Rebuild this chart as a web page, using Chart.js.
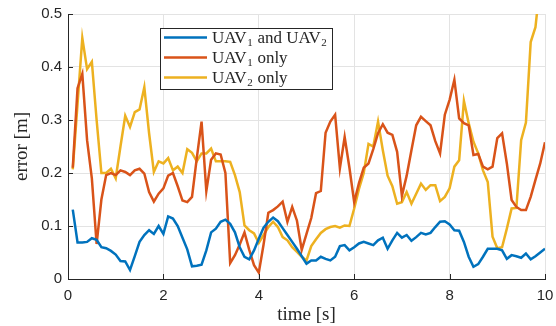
<!DOCTYPE html>
<html>
<head>
<meta charset="utf-8">
<script src="https://cdn.jsdelivr.net/npm/chart.js@4.4.0/dist/chart.umd.min.js"></script>
<style>
  html, body { margin: 0; padding: 0; background: #fff; }
  #wrap { width: 556px; height: 326px; }
</style>
</head>
<body>
<div id="wrap"><canvas id="errChart" width="556" height="326"></canvas></div>
<script>
// time stamps [s]
const time = [
  0.1, 0.2, 0.3, 0.4, 0.5, 0.6, 0.7, 0.8, 0.9, 1.0,
  1.1, 1.2, 1.3, 1.4, 1.5, 1.6, 1.7, 1.8, 1.9, 2.0,
  2.1, 2.2, 2.3, 2.4, 2.5, 2.6, 2.7, 2.8, 2.9, 3.0,
  3.1, 3.2, 3.3, 3.4, 3.5, 3.6, 3.7, 3.8, 3.9, 4.0,
  4.1, 4.2, 4.3, 4.4, 4.5, 4.6, 4.7, 4.8, 4.9, 5.0,
  5.1, 5.2, 5.3, 5.4, 5.5, 5.6, 5.7, 5.8, 5.9, 6.0,
  6.1, 6.2, 6.3, 6.4, 6.5, 6.6, 6.7, 6.8, 6.9, 7.0,
  7.1, 7.2, 7.3, 7.4, 7.5, 7.6, 7.7, 7.8, 7.9, 8.0,
  8.1, 8.2, 8.3, 8.4, 8.5, 8.6, 8.7, 8.8, 8.9, 9.0,
  9.1, 9.2, 9.3, 9.4, 9.5, 9.6, 9.7, 9.8, 9.9, 10.0
];

// error [m], UAV1 and UAV2
const errBoth = [
  0.131, 0.069, 0.069, 0.070, 0.077, 0.074, 0.060, 0.058, 0.053, 0.046,
  0.034, 0.033, 0.017, 0.043, 0.070, 0.083, 0.092, 0.085, 0.100, 0.085,
  0.118, 0.114, 0.100, 0.078, 0.056, 0.024, 0.025, 0.027, 0.054, 0.088,
  0.095, 0.108, 0.112, 0.104, 0.088, 0.060, 0.042, 0.037, 0.054, 0.076,
  0.097, 0.108, 0.116, 0.109, 0.096, 0.083, 0.070, 0.057, 0.043, 0.029,
  0.035, 0.035, 0.042, 0.038, 0.035, 0.042, 0.062, 0.064, 0.054, 0.060,
  0.067, 0.070, 0.067, 0.064, 0.073, 0.078, 0.057, 0.073, 0.087, 0.078,
  0.083, 0.072, 0.079, 0.087, 0.084, 0.087, 0.098, 0.108, 0.109, 0.103,
  0.092, 0.091, 0.070, 0.042, 0.023, 0.028, 0.042, 0.057, 0.057, 0.057,
  0.054, 0.038, 0.045, 0.043, 0.040, 0.048, 0.037, 0.043, 0.050, 0.057
];

// error [m], UAV1 only
const errUav1 = [
  0.210, 0.360, 0.387, 0.262, 0.190, 0.066, 0.150, 0.196, 0.200, 0.196,
  0.205, 0.202, 0.196, 0.205, 0.208, 0.199, 0.164, 0.146, 0.161, 0.171,
  0.195, 0.200, 0.175, 0.148, 0.145, 0.155, 0.228, 0.297, 0.166, 0.225,
  0.237, 0.235, 0.200, 0.030, 0.045, 0.065, 0.088, 0.055, 0.026, 0.012,
  0.065, 0.125, 0.130, 0.137, 0.146, 0.108, 0.136, 0.110, 0.055, 0.085,
  0.115, 0.162, 0.166, 0.276, 0.297, 0.310, 0.209, 0.268, 0.210, 0.145,
  0.181, 0.210, 0.218, 0.245, 0.275, 0.292, 0.276, 0.272, 0.240, 0.157,
  0.195, 0.243, 0.290, 0.306, 0.298, 0.290, 0.260, 0.237, 0.310, 0.338,
  0.376, 0.303, 0.294, 0.290, 0.234, 0.236, 0.212, 0.207, 0.212, 0.266,
  0.275, 0.218, 0.149, 0.136, 0.130, 0.130, 0.155, 0.187, 0.218, 0.258
];

// error [m], UAV2 only (last points run off the top of the axes)
const errUav2 = [
  0.207, 0.330, 0.455, 0.396, 0.410, 0.300, 0.200, 0.200, 0.208, 0.190,
  0.250, 0.308, 0.287, 0.315, 0.320, 0.362, 0.275, 0.202, 0.222, 0.218,
  0.228, 0.205, 0.212, 0.200, 0.245, 0.238, 0.222, 0.237, 0.237, 0.246,
  0.222, 0.222, 0.222, 0.221, 0.196, 0.164, 0.101, 0.092, 0.086, 0.068,
  0.083, 0.098, 0.108, 0.098, 0.079, 0.073, 0.060, 0.051, 0.042, 0.035,
  0.062, 0.075, 0.087, 0.094, 0.098, 0.100, 0.097, 0.101, 0.100, 0.133,
  0.170, 0.200, 0.255, 0.250, 0.297, 0.243, 0.195, 0.175, 0.142, 0.145,
  0.164, 0.142, 0.161, 0.180, 0.168, 0.177, 0.177, 0.147, 0.155, 0.171,
  0.212, 0.224, 0.336, 0.294, 0.259, 0.237, 0.205, 0.183, 0.080, 0.058,
  0.060, 0.095, 0.133, 0.134, 0.262, 0.295, 0.447, 0.475, 0.560, 0.650
];

const xTicks = [0, 2, 4, 6, 8, 10];
const yTicks = [0, 0.1, 0.2, 0.3, 0.4, 0.5];

const axisColor = "#262626";
const gridColor = "#e3e3e3";
const serif = "'Liberation Serif', 'Times New Roman', serif";
const sans = "'Liberation Sans', Arial, Helvetica, sans-serif";

const series = [
  { main: "UAV", sub: "1", rest: " and UAV", sub2: "2", data: errBoth, color: "#0072BD" },
  { main: "UAV", sub: "1", rest: " only", sub2: "", data: errUav1, color: "#D95319" },
  { main: "UAV", sub: "2", rest: " only", sub2: "", data: errUav2, color: "#EDB120" }
];

const toPoints = (ys) => time.map((t, i) => ({ x: t, y: ys[i] }));

// legend box in the upper left part of the axes, like the matlab one
const legendBox = {
  id: "legendBox",
  afterDraw(chart) {
    const ctx = chart.ctx;
    const x0 = 160.5, y0 = 28.5, w = 172, h = 61;
    ctx.save();
    ctx.fillStyle = "#fff";
    ctx.fillRect(x0, y0, w, h);
    ctx.strokeStyle = axisColor;
    ctx.lineWidth = 1;
    ctx.strokeRect(x0, y0, w, h);
    series.forEach((s, i) => {
      const cy = 37.5 + i * 20;
      ctx.strokeStyle = s.color;
      ctx.lineWidth = 2.5;
      ctx.beginPath();
      ctx.moveTo(164, cy);
      ctx.lineTo(207, cy);
      ctx.stroke();
      ctx.fillStyle = axisColor;
      ctx.textBaseline = "alphabetic";
      ctx.textAlign = "left";
      let x = 212;
      const base = cy + 5.5;
      ctx.font = "17px " + serif;
      ctx.fillText(s.main, x, base);
      x += ctx.measureText(s.main).width;
      ctx.font = "11px " + serif;
      ctx.fillText(s.sub, x + 0.5, base + 2.5);
      x += ctx.measureText(s.sub).width + 1;
      ctx.font = "17px " + serif;
      ctx.fillText(s.rest, x, base);
      x += ctx.measureText(s.rest).width;
      if (s.sub2) {
        ctx.font = "11px " + serif;
        ctx.fillText(s.sub2, x + 0.5, base + 2.5);
      }
    });
    ctx.restore();
  }
};

// small inward tick marks on the left and bottom axes
const innerTicks = {
  id: "innerTicks",
  afterDraw(chart) {
    const ctx = chart.ctx;
    const xs = chart.scales.x, ys = chart.scales.y;
    const area = chart.chartArea;
    ctx.save();
    ctx.strokeStyle = axisColor;
    ctx.lineWidth = 1;
    ctx.beginPath();
    xTicks.forEach(v => {
      const px = Math.round(xs.getPixelForValue(v)) + 0.5;
      ctx.moveTo(px, area.bottom);
      ctx.lineTo(px, area.bottom - 5);
    });
    yTicks.forEach(v => {
      const py = Math.round(ys.getPixelForValue(v)) + 0.5;
      ctx.moveTo(area.left, py);
      ctx.lineTo(area.left + 5, py);
    });
    ctx.stroke();
    ctx.restore();
  }
};

new Chart(document.getElementById("errChart").getContext("2d"), {
  type: "line",
  data: {
    datasets: series.map(s => ({
      label: s.main + s.sub + s.rest + s.sub2,
      data: toPoints(s.data),
      borderColor: s.color,
      backgroundColor: s.color,
      borderWidth: 2.5,
      pointRadius: 0,
      tension: 0,
      fill: false,
      clip: 0
    }))
  },
  options: {
    responsive: false,
    animation: false,
    devicePixelRatio: 1,
    layout: { padding: { left: 0, top: 14, right: 11, bottom: 0 } },
    plugins: {
      legend: { display: false },
      tooltip: { enabled: false }
    },
    scales: {
      x: {
        type: "linear",
        min: 0,
        max: 10,
        afterFit: (s) => { s.height = 47; s.paddingLeft = 0; s.paddingRight = 0; },
        afterBuildTicks: (s) => { s.ticks = xTicks.map(v => ({ value: v })); },
        ticks: {
          font: { family: sans, size: 15 },
          color: axisColor,
          padding: 8,
          maxRotation: 0
        },
        grid: { color: gridColor, drawTicks: false },
        border: { color: axisColor, width: 1 },
        title: {
          display: true,
          text: "time [s]",
          font: { family: serif, size: 19 },
          color: axisColor,
          padding: { top: 0, bottom: 0 }
        }
      },
      y: {
        min: 0,
        max: 0.5,
        afterFit: (s) => { s.width = 68; s.paddingTop = 0; s.paddingBottom = 0; },
        afterBuildTicks: (s) => { s.ticks = yTicks.map(v => ({ value: v })); },
        ticks: {
          font: { family: sans, size: 15 },
          color: axisColor,
          padding: 6
        },
        grid: { color: gridColor, drawTicks: false },
        border: { color: axisColor, width: 1 },
        title: {
          display: true,
          text: "error [m]",
          font: { family: serif, size: 19 },
          color: axisColor,
          padding: { top: 11, bottom: 0 }
        }
      }
    }
  },
  plugins: [innerTicks, legendBox]
});
</script>
</body>
</html>
